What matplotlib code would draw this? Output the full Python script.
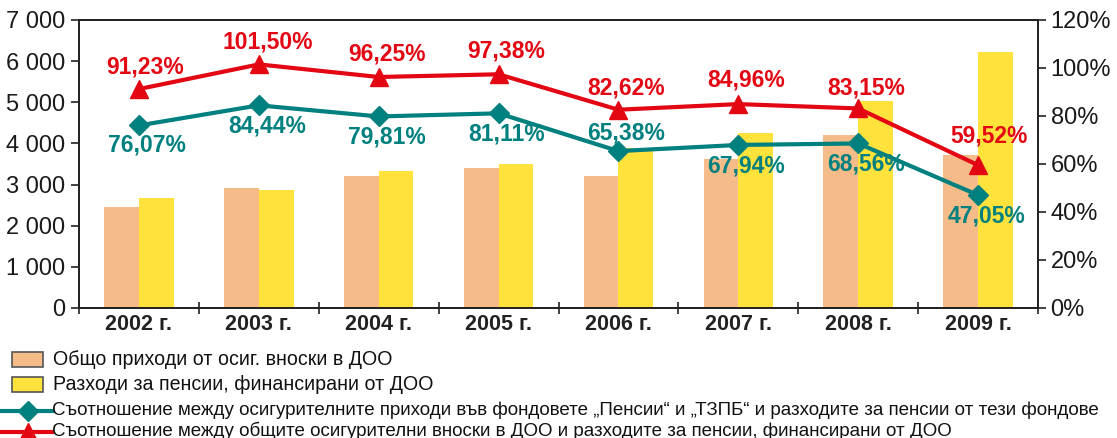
import numpy as np
import matplotlib
matplotlib.use('Agg')
import matplotlib.pyplot as plt
from matplotlib.patches import Rectangle
from matplotlib.lines import Line2D

years = ['2002 г.', '2003 г.', '2004 г.', '2005 г.', '2006 г.', '2007 г.', '2008 г.', '2009 г.']
revenues = [2450, 2910, 3200, 3400, 3200, 3620, 4200, 3720]    # Общо приходи от осиг. вноски в ДОО
pensions = [2680, 2860, 3330, 3500, 3880, 4260, 5040, 6230]    # Разходи за пенсии, финансирани от ДОО
ratio_funds = [76.07, 84.44, 79.81, 81.11, 65.38, 67.94, 68.56, 47.05]
ratio_total = [91.23, 101.50, 96.25, 97.38, 82.62, 84.96, 83.15, 59.52]

legend_labels = [
    'Общо приходи от осиг. вноски в ДОО',
    'Разходи за пенсии, финансирани от ДОО',
    'Съотношение между осигурителните приходи във фондовете „Пенсии“ и „ТЗПБ“ и разходите за пенсии от тези фондове',
    'Съотношение между общите осигурителни вноски в ДОО и разходите за пенсии, финансирани от ДОО',
]

PEACH = '#F5BC8A'
YELLOW = '#FFE33C'
TEAL = '#00807E'
RED = '#E30613'

plt.rcParams['font.family'] = ['Liberation Sans', 'DejaVu Sans']

W, H = 1117, 438
fig = plt.figure(figsize=(W / 100, H / 100), dpi=100)
ax = fig.add_axes([79 / W, 1 - 308 / H, (1038 - 79) / W, (308 - 20) / H])
ax2 = ax.twinx()

x = np.arange(len(years))
bw = 0.29
ax.bar(x - bw / 2, revenues, bw, color=PEACH, zorder=2)
ax.bar(x + bw / 2, pensions, bw, color=YELLOW, zorder=2)
ax.set_xlim(-0.5, len(years) - 0.5)
ax.set_ylim(0, 7000)
ax.set_yticks(range(0, 7001, 1000))
ax.set_yticklabels([f'{v:,}'.replace(',', ' ') for v in range(0, 7001, 1000)], fontsize=17,
                   color='#1a1a1a')

ax.set_xticks(np.arange(-0.5, len(years), 1.0))
ax.set_xticklabels([])
ax.tick_params(axis='x', which='major', direction='inout', length=9, width=1.2, color='#222222')
ax.set_xticks(x, minor=True)
ax.set_xticklabels(years, minor=True, fontsize=15.5, fontweight='bold', color='#222222')
ax.tick_params(axis='x', which='minor', length=0, pad=4)
ax.tick_params(axis='y', direction='out', length=6, width=1.2, color='#222222', pad=4)

ax2.plot(x, ratio_funds, color=TEAL, lw=3, marker='D', ms=10, zorder=3)
ax2.plot(x, ratio_total, color=RED, lw=3, marker='^', ms=13, zorder=3)
ax2.set_ylim(0, 120)
ax2.set_yticks(range(0, 121, 20))
ax2.set_yticklabels([f'{v}%' for v in range(0, 121, 20)], fontsize=17, color='#1a1a1a')
ax2.tick_params(axis='y', direction='out', length=6, width=1.2, color='#222222', pad=3)

for a in (ax, ax2):
    for s in a.spines.values():
        s.set_linewidth(1.3)
        s.set_color('#222222')

# label offsets in pixels (dx, dy)
funds_dy = [-20, -21, -21, -21, 18, -21, -21, -21]
total_dy = [22, 22, 23, 23, 22, 24, 20, 29]
total_dx = [6, 9, 8, 8, 8, 8, 8, 11]
for i in range(len(years)):
    ax2.annotate(f'{ratio_funds[i]:.2f}%'.replace('.', ','), (x[i], ratio_funds[i]),
                 xytext=(8, funds_dy[i]), textcoords='offset pixels', ha='center', va='center',
                 color=TEAL, fontsize=16.5, fontweight='bold', zorder=4)
    ax2.annotate(f'{ratio_total[i]:.2f}%'.replace('.', ','), (x[i], ratio_total[i]),
                 xytext=(total_dx[i], total_dy[i]), textcoords='offset pixels', ha='center', va='center',
                 color=RED, fontsize=16.5, fontweight='bold', zorder=4)

# legend, drawn by hand under the chart
def fx(px):
    return px / W

def fy(py):
    return 1 - py / H

for (top, bottom), col, lab in zip([(352, 367), (377, 392)], [PEACH, YELLOW], legend_labels[:2]):
    fig.add_artist(Rectangle((fx(12), fy(bottom)), fx(43) - fx(12), fy(top) - fy(bottom),
                             transform=fig.transFigure, facecolor=col, edgecolor='#555555', lw=1.2))
    fig.text(fx(53), fy((top + bottom) / 2), lab, ha='left', va='center', fontsize=14.1,
             color='#111111')

for yy, col, mk, ms, lab in zip([411, 432], [TEAL, RED], ['D', '^'], [10, 13], legend_labels[2:]):
    fig.add_artist(Line2D([fx(2), fx(52)], [fy(yy), fy(yy)], transform=fig.transFigure,
                          color=col, lw=3))
    fig.add_artist(Line2D([fx(28)], [fy(yy)], transform=fig.transFigure,
                          color=col, marker=mk, ms=ms, lw=0))
    fig.text(fx(52), fy(yy - 1), lab, ha='left', va='center', fontsize=13.5,
             color='#111111')

fig.savefig('out.png', dpi=100)
